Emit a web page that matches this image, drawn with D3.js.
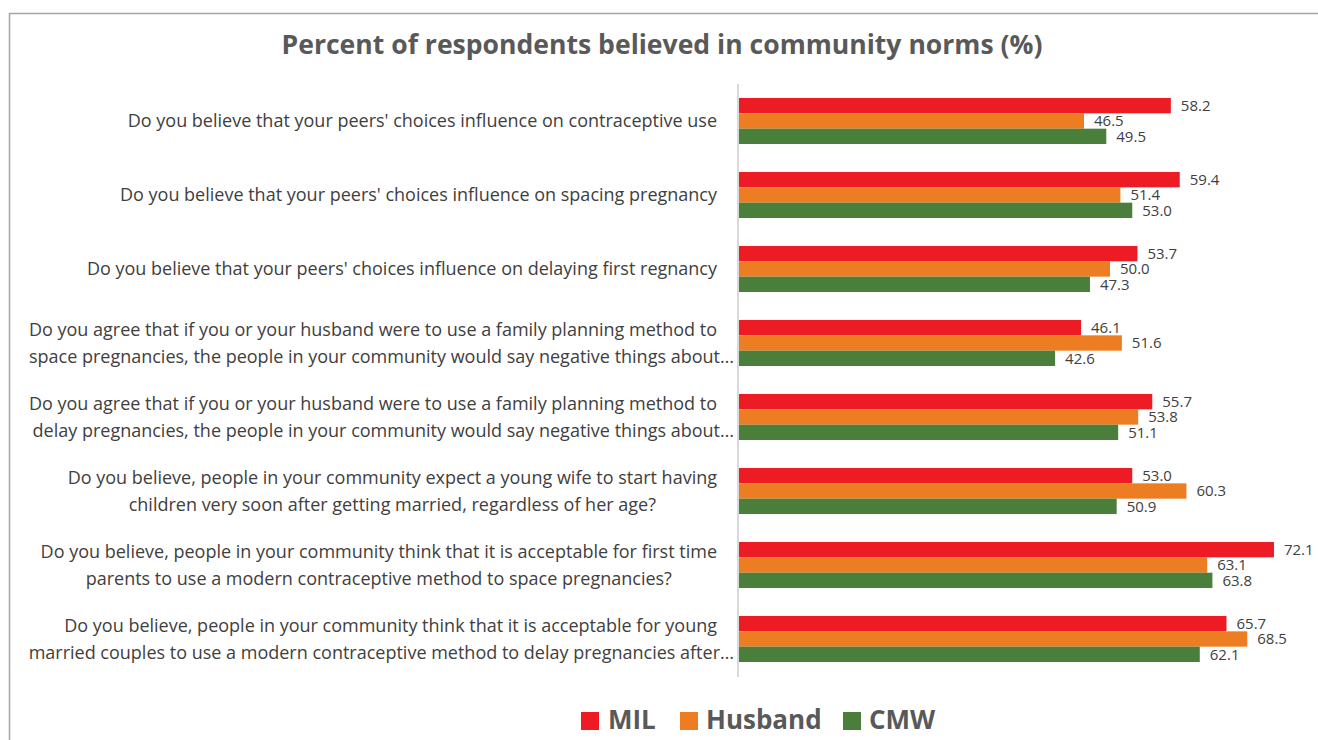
<!DOCTYPE html>
<html>
<head>
<meta charset="utf-8">
<script src="https://cdn.jsdelivr.net/npm/d3@7"></script>
<style>
  html, body { margin: 0; padding: 0; background: #fff; }
  svg { display: block; }
  text { font-family: "Open Sans", "Noto Sans", sans-serif; }
</style>
</head>
<body>
<div id="chart"></div>
<script>
// Survey questions (one line per array entry, as wrapped on the axis)
const categories = [
  ["Do you believe that your peers' choices influence on contraceptive use"],
  ["Do you believe that your peers' choices influence on spacing pregnancy"],
  ["Do you believe that your peers' choices influence on delaying first regnancy"],
  ["Do you agree that if you or your husband were to use a family planning method to",
   "space pregnancies, the people in your community would say negative things about…"],
  ["Do you agree that if you or your husband were to use a family planning method to",
   "delay pregnancies, the people in your community would say negative things about…"],
  ["Do you believe, people in your community expect a young wife to start having",
   "children very soon after getting married, regardless of her age?"],
  ["Do you believe, people in your community think that it is acceptable for first time",
   "parents to use a modern contraceptive method to space pregnancies?"],
  ["Do you believe, people in your community think that it is acceptable for young",
   "married couples to use a modern contraceptive method to delay pregnancies after…"]
];

const seriesNames = ["MIL", "Husband", "CMW"];
const milValues     = [58.2, 59.4, 53.7, 46.1, 55.7, 53.0, 72.1, 65.7];
const husbandValues = [46.5, 51.4, 50.0, 51.6, 53.8, 60.3, 63.1, 68.5];
const cmwValues     = [49.5, 53.0, 47.3, 42.6, 51.1, 50.9, 63.8, 62.1];
const seriesColors  = ["#ED1C24", "#ED7D22", "#4A7F3B"];

const chartTitle = "Percent of respondents believed in community norms (%)";

const W = 1318, H = 740;
const svg = d3.select("#chart").append("svg")
  .attr("width", W).attr("height", H);

// outer frame
svg.append("path")
  .attr("d", `M9.5,${H} V13.5 H${W}`)
  .attr("fill", "none")
  .attr("stroke", "#a6a6a6")
  .attr("stroke-width", 1.5);

// title
svg.append("text")
  .attr("x", 662).attr("y", 54)
  .attr("text-anchor", "middle")
  .attr("font-size", 26).attr("font-weight", 700)
  .attr("fill", "#595959")
  .attr("textLength", 761).attr("lengthAdjust", "spacingAndGlyphs")
  .text(chartTitle);

const keys = categories.map((c, i) => "q" + i);
const valuesBySeries = [milValues, husbandValues, cmwValues];
const rows = keys.map((k, i) => ({
  key: k,
  lines: categories[i],
  values: seriesNames.map((s, j) => ({ series: s, value: valuesBySeries[j][i], color: seriesColors[j] }))
}));

const plotLeft = 739;
const x = d3.scaleLinear().domain([0, 80]).range([plotLeft, plotLeft + 80 * 7.42]);
const y0 = d3.scaleBand().domain(keys).range([84, 676])
  .paddingInner(0.378).paddingOuter(0.189);
const y1 = d3.scaleBand().domain(seriesNames).range([0, y0.bandwidth()]);

// category axis line
svg.append("line")
  .attr("x1", plotLeft - 1).attr("x2", plotLeft - 1)
  .attr("y1", 84).attr("y2", 677)
  .attr("stroke", "#d9d9d9").attr("stroke-width", 2);

const groups = svg.append("g").selectAll("g")
  .data(rows).join("g")
  .attr("transform", d => `translate(0,${y0(d.key)})`);

groups.selectAll("rect")
  .data(d => d.values).join("rect")
  .attr("x", x(0))
  .attr("y", d => y1(d.series))
  .attr("width", d => x(d.value) - x(0))
  .attr("height", y1.bandwidth())
  .attr("fill", d => d.color);

groups.selectAll("text.val")
  .data(d => d.values).join("text")
  .attr("class", "val")
  .attr("x", d => x(d.value) + 10)
  .attr("y", d => y1(d.series) + y1.bandwidth() / 2 + 5.5)
  .attr("font-size", 15)
  .attr("fill", "#404040")
  .text(d => d.value.toFixed(1));

// category labels: block right-aligned to the axis, lines centred within it;
// truncated lines (ending in an ellipsis) run up to the axis
const labelRight = 717;
const lineGap = 27;
const labels = svg.append("g");
rows.forEach(r => {
  const cy = y0(r.key) + y0.bandwidth() / 2;
  const n = r.lines.length;
  const nodes = r.lines.map((ln, i) => labels.append("text")
    .attr("y", cy + (i - (n - 1) / 2) * lineGap + 6)
    .attr("font-size", 18)
    .attr("fill", "#404040")
    .text(ln));
  const full = nodes.filter((t, i) => !r.lines[i].endsWith("…"));
  const maxW = d3.max(full, t => t.node().getComputedTextLength());
  const cx = labelRight - maxW / 2;
  nodes.forEach((t, i) => {
    if (r.lines[i].endsWith("…")) {
      t.attr("x", 734).attr("text-anchor", "end");
    } else {
      t.attr("x", cx).attr("text-anchor", "middle");
    }
  });
});

// legend
const legendItems = [
  { name: seriesNames[0], color: seriesColors[0], sx: 581, tx: 608 },
  { name: seriesNames[1], color: seriesColors[1], sx: 680, tx: 706 },
  { name: seriesNames[2], color: seriesColors[2], sx: 843, tx: 869 }
];
const legend = svg.append("g");
legend.selectAll("rect").data(legendItems).join("rect")
  .attr("x", d => d.sx).attr("y", 712)
  .attr("width", 18).attr("height", 18)
  .attr("fill", d => d.color);
legend.selectAll("text").data(legendItems).join("text")
  .attr("x", d => d.tx).attr("y", 729)
  .attr("font-size", 26).attr("font-weight", 700)
  .attr("fill", "#595959")
  .text(d => d.name);
</script>
</body>
</html>
